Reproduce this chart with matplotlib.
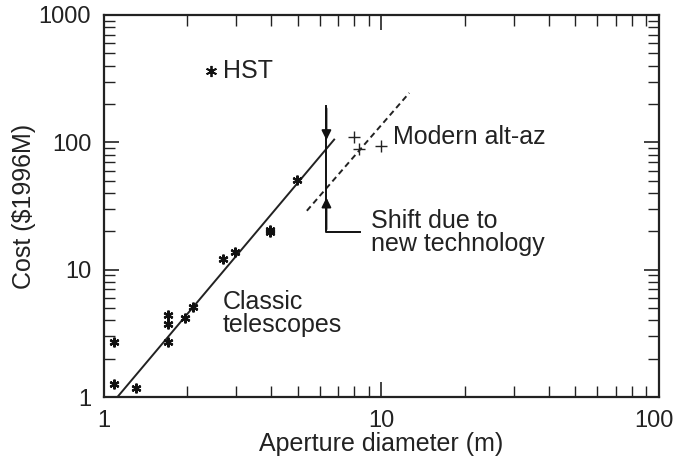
import matplotlib.pyplot as plt
import numpy as np
from matplotlib.ticker import LogLocator, NullFormatter, FixedFormatter, FixedLocator
from matplotlib.transforms import ScaledTranslation

plt.rcParams['font.family'] = ['Liberation Sans', 'DejaVu Sans']
plt.rcParams.update({'font.size': 17})

# classic telescopes: aperture (m), cost ($1996M)
classic_d = [1.09, 1.09, 1.31, 1.71, 1.71, 1.71, 1.97, 2.09, 2.68, 2.97, 3.97, 3.97, 4.95]
classic_c = [2.68, 1.27, 1.18, 4.4, 3.73, 2.71, 4.2, 5.05, 12.1, 13.7, 19.7, 20.3, 50.8]
# HST
hst_d = [2.44]
hst_c = [362]
# modern alt-az
modern_d = [7.94, 8.3, 9.93]
modern_c = [111, 89, 93]
# fit lines (end points)
classic_fit_d = [1.12, 6.76]
classic_fit_c = [1.0, 105]
modern_fit_d = [5.39, 12.6]
modern_fit_c = [29, 244]
# shift arrow
shift_x = 6.34
shift_top = 194
shift_down_tip = 99
shift_up_tip = 38.7
shift_foot = 19.7
shift_foot_x = 8.39

fig = plt.figure(figsize=(6.78, 4.66), dpi=100)
ax = fig.add_axes([0.153, 0.148, 0.819, 0.820])

ax.plot(classic_fit_d, classic_fit_c, color='#222222', lw=1.4)
ax.plot(modern_fit_d, modern_fit_c, color='#222222', lw=1.4, ls=(0, (3, 2)))

ax.plot(classic_d, classic_c, ls='none', marker=(6, 2, 0), ms=7, mew=1.6, color='#111111')
ax.plot(hst_d, hst_c, ls='none', marker=(6, 2, 0), ms=8, mew=1.3, color='#111111')
ax.plot(modern_d, modern_c, ls='none', marker='+', ms=8, mew=1.0, color='#222222')

# shift indicator
ax.plot([shift_x, shift_x, shift_foot_x], [shift_top, shift_foot, shift_foot], color='#111111', lw=1.4)
ax.annotate('', xy=(shift_x, shift_down_tip), xytext=(shift_x, shift_top),
            arrowprops=dict(arrowstyle='-|>', color='#111111', lw=1.4, mutation_scale=14))
ax.annotate('', xy=(shift_x, shift_up_tip), xytext=(shift_x, shift_foot),
            arrowprops=dict(arrowstyle='-|>', color='#111111', lw=1.4, mutation_scale=14))

ax.text(2.68, 362, 'HST', va='center', ha='left', fontsize=18, color='#222222')
ax.text(11.0, 111, 'Modern alt-az', va='center', ha='left', fontsize=18, color='#222222')
ax.text(9.2, 19.5, 'Shift due to\nnew technology', va='center', ha='left', fontsize=18,
        color='#222222', linespacing=0.95)
ax.text(2.68, 4.5, 'Classic\ntelescopes', va='center', ha='left', fontsize=18,
        color='#222222', linespacing=0.95)

ax.set_xscale('log')
ax.set_yscale('log')
ax.set_xlim(1, 100)
ax.set_ylim(1, 1000)
ax.xaxis.set_major_locator(FixedLocator([1, 10, 100]))
ax.xaxis.set_major_formatter(FixedFormatter(['1', '10', '100']))
ax.yaxis.set_major_locator(FixedLocator([1, 10, 100, 1000]))
ax.yaxis.set_major_formatter(FixedFormatter(['1', '10', '100', '1000']))
ax.xaxis.set_minor_locator(LogLocator(subs=np.arange(2, 10)))
ax.yaxis.set_minor_locator(LogLocator(subs=np.arange(2, 10)))
ax.xaxis.set_minor_formatter(NullFormatter())
ax.yaxis.set_minor_formatter(NullFormatter())
ax.tick_params(which='both', direction='in', top=True, right=True, color='#222222',
               labelsize=17, labelcolor='#222222')
ax.tick_params(which='major', length=11, width=1.2, pad=9)
ax.tick_params(which='minor', length=8, width=1.0)
for s in ax.spines.values():
    s.set_linewidth(1.6)
    s.set_color('#222222')

# nudge the "100" label left so it stays inside the figure
last = ax.xaxis.get_major_ticks()[-1].label1
last.set_transform(last.get_transform() + ScaledTranslation(-4 / 72, 0, fig.dpi_scale_trans))

ax.set_xlabel('Aperture diameter (m)', fontsize=18, color='#222222', labelpad=0)
ax.set_ylabel('Cost ($1996M)', fontsize=18, color='#222222', labelpad=2)

fig.savefig('out.png', dpi=100)
